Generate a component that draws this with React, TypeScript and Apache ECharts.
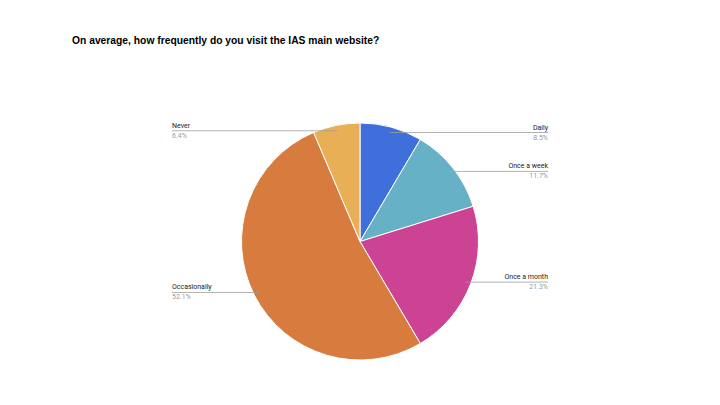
import React, { useEffect, useRef } from "react";
import * as echarts from "echarts";

const TITLE = "On average, how frequently do you visit the IAS main website?";
const categories = ["Daily", "Once a week", "Once a month", "Occasionally", "Never"];
const values = [8.5, 11.7, 21.3, 52.1, 6.4];
const colors = ["#3E6FDB", "#67B1C6", "#CC4393", "#D87B3F", "#E8AF56"];

const W = 720;
const H = 405;

export default function App() {
  const ref = useRef<HTMLDivElement>(null);
  useEffect(() => {
    if (!ref.current) return;
    const chart = echarts.init(ref.current, undefined, { renderer: "svg" });
    const data = categories.map((name, i) => ({
      name,
      value: values[i],
      itemStyle: { color: colors[i] },
    }));
    const leftEdge = 172;
    const rightEdge = 548;
    chart.setOption({
      animation: false,
      backgroundColor: "#ffffff",
      title: {
        text: TITLE,
        left: 72,
        top: 35,
        padding: 0,
        textStyle: {
          fontFamily: "Liberation Sans, Arial, sans-serif",
          fontSize: 10.3,
          fontWeight: "bold",
          color: "#000000",
        },
      },
      series: [
        {
          type: "pie",
          center: [360, 241.5],
          radius: 118.5,
          startAngle: 90,
          clockwise: true,
          silent: true,
          data,
          itemStyle: { borderColor: "#ffffff", borderWidth: 1 },
          label: { show: false },
          labelLine: { show: false },
        },
        {
          type: "pie",
          center: [360, 241.5],
          radius: 113,
          startAngle: 90,
          clockwise: true,
          silent: true,
          z: 3,
          data: categories.map((name, i) => ({ name, value: values[i] })),
          itemStyle: { color: "rgba(0,0,0,0)", borderWidth: 0 },
          label: {
            show: true,
            position: "outside",
            formatter: (p: any) => `{n|${p.name}}\n{p|${p.value.toFixed(1)}%}`,
            rich: {
              n: {
                fontFamily: "Roboto, Liberation Sans, sans-serif",
                fontSize: 7,
                color: "#222222",
                lineHeight: 10,
              },
              p: {
                fontFamily: "Roboto, Liberation Sans, sans-serif",
                fontSize: 7,
                color: "#9a9a9a",
                lineHeight: 10,
              },
            },
          },
          labelLine: {
            show: true,
            length: 0,
            length2: 10,
            lineStyle: { color: "#a0a0a0", width: 0.8 },
          },
          labelLayout: (params: any) => {
            const pts = params.labelLinePoints;
            if (!pts || !pts.length) return {};
            const start = pts[0];
            const isLeft = start[0] < 360;
            const edgeX = isLeft ? leftEdge : rightEdge;
            return {
              x: edgeX,
              y: start[1],
              align: isLeft ? "left" : "right",
              verticalAlign: "middle",
              labelLinePoints: [
                [start[0], start[1]],
                [edgeX, start[1]],
                [edgeX, start[1]],
              ],
            };
          },
        },
      ],
    });
    return () => chart.dispose();
  }, []);
  return (
    <div
      ref={ref}
      style={{ position: "absolute", left: 0, top: 0, width: W, height: H, background: "#fff" }}
    />
  );
}
